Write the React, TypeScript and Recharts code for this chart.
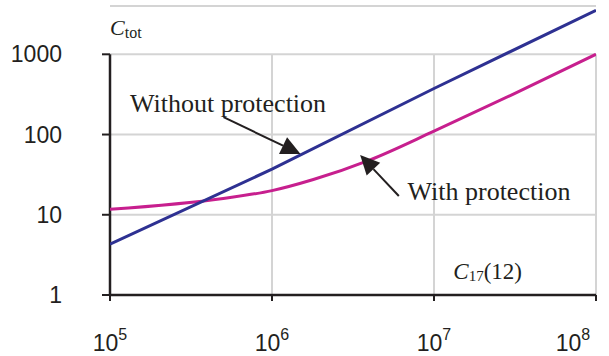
import React from "react";
import { CartesianGrid, Line, LineChart, ReferenceDot, ReferenceLine, XAxis, YAxis } from "recharts";

const xTicks = [1e5, 1e6, 1e7, 1e8];
const yTicks = [1, 10, 100, 1000];

const withoutX = [1e5, 1e6, 1e7, 1e8];
const withoutY = [4.3, 37, 375, 3540];

const withX = [1e5, 5e5, 1e6, 1.8e6, 4e6, 1e7, 3e7, 1e8];
const withY = [11.7, 16, 20, 27.5, 48, 110, 310, 1000];

const dark = "#231f20";
const grid = "#d4d4d4";
const serif = "Liberation Serif";
const sans = "Liberation Sans";

const withoutData = withoutX.map((x, i) => ({ x, y: withoutY[i] }));
const withData = withX.map((x, i) => ({ x, y: withY[i] }));

const PowerTick = (props: any) => {
  const { x, y, payload } = props;
  const exp = Math.round(Math.log10(payload.value));
  return (
    <text x={x} y={y + 48} textAnchor="middle" fontFamily={sans} fill={dark}>
      <tspan fontSize={23}>10</tspan>
      <tspan fontSize={16} dy={-10.6}>{exp}</tspan>
    </text>
  );
};

// arrow with filled head, tip at the dot, tail offset in pixels
const arrow = (dx: number, dy: number, label: string, tx: number, ty: number) => (props: any) => {
  const { cx, cy } = props;
  const len = Math.hypot(dx, dy);
  const ux = -dx / len;
  const uy = -dy / len;
  const bx = cx - ux * 19.4;
  const by = cy - uy * 19.4;
  const px = -uy * 9.3;
  const py = ux * 9.3;
  return (
    <g>
      <line x1={cx + dx} y1={cy + dy} x2={bx} y2={by} stroke={dark} strokeWidth={2} />
      <polygon points={`${cx},${cy} ${bx + px},${by + py} ${bx - px},${by - py}`} fill={dark} />
      <text x={cx + tx} y={cy + ty} fontFamily={serif} fontSize={26} fill={dark}>{label}</text>
    </g>
  );
};

const YTitle = (props: any) => (
  <text x={props.cx} y={props.cy - 19.3} fontFamily={serif} fill={dark}>
    <tspan fontSize={22} fontStyle="italic">C</tspan>
    <tspan fontSize={16} dy={3}>tot</tspan>
  </text>
);

const XTitle = (props: any) => (
  <text x={props.cx - 142.7} y={props.cy - 15.7} fontFamily={serif} fill={dark}>
    <tspan fontSize={23} fontStyle="italic">C</tspan>
    <tspan fontSize={15} dy={1.5}>17</tspan>
    <tspan fontSize={23} dy={-1.5}>(12)</tspan>
  </text>
);

export default function App() {
  return (
    <div style={{ position: "absolute", left: 0, top: 0, background: "#fff" }}>
      <LineChart width={609} height={356} margin={{ top: 6, right: 13, bottom: 0, left: 0 }}>
        <CartesianGrid vertical={false} stroke={grid} strokeWidth={2} />
        {xTicks.slice(1).map((t) => (
          <ReferenceLine key={t} segment={[{ x: t, y: 1 }, { x: t, y: 1000 }]} stroke={grid} strokeWidth={2} />
        ))}
        <XAxis
          dataKey="x"
          type="number"
          scale="log"
          domain={[1e5, 1e8]}
          ticks={xTicks}
          height={61}
          tickSize={6}
          axisLine={{ stroke: dark, strokeWidth: 2.5 }}
          tickLine={{ stroke: dark, strokeWidth: 2 }}
          tick={<PowerTick />}
          allowDataOverflow
        />
        <YAxis
          type="number"
          scale="log"
          domain={[1, 4000]}
          ticks={yTicks}
          width={110}
          tickSize={8}
          tickMargin={40}
          axisLine={false}
          tickLine={{ stroke: dark, strokeWidth: 2 }}
          tick={{ fontSize: 23, fill: dark, fontFamily: sans }}
          allowDataOverflow
        />
        <ReferenceLine segment={[{ x: 1e5, y: 1 }, { x: 1e5, y: 1000 }]} stroke={dark} strokeWidth={2.5} />
        <Line data={withData} dataKey="y" type="monotone" stroke="#c71f8e" strokeWidth={3} dot={false} isAnimationActive={false} />
        <Line data={withoutData} dataKey="y" type="linear" stroke="#2e3192" strokeWidth={3} dot={false} isAnimationActive={false} />
        <ReferenceDot x={1.5e6} y={57} r={0} shape={arrow(-77, -37, "Without protection", -170.5, -41.8)} />
        <ReferenceDot x={3.5e6} y={55.5} r={0} shape={arrow(38.7, 41, "With protection", 47.4, 45)} />
        <ReferenceDot x={1e5} y={1000} r={0} shape={YTitle} />
        <ReferenceDot x={1e8} y={1} r={0} shape={XTitle} />
      </LineChart>
    </div>
  );
}
